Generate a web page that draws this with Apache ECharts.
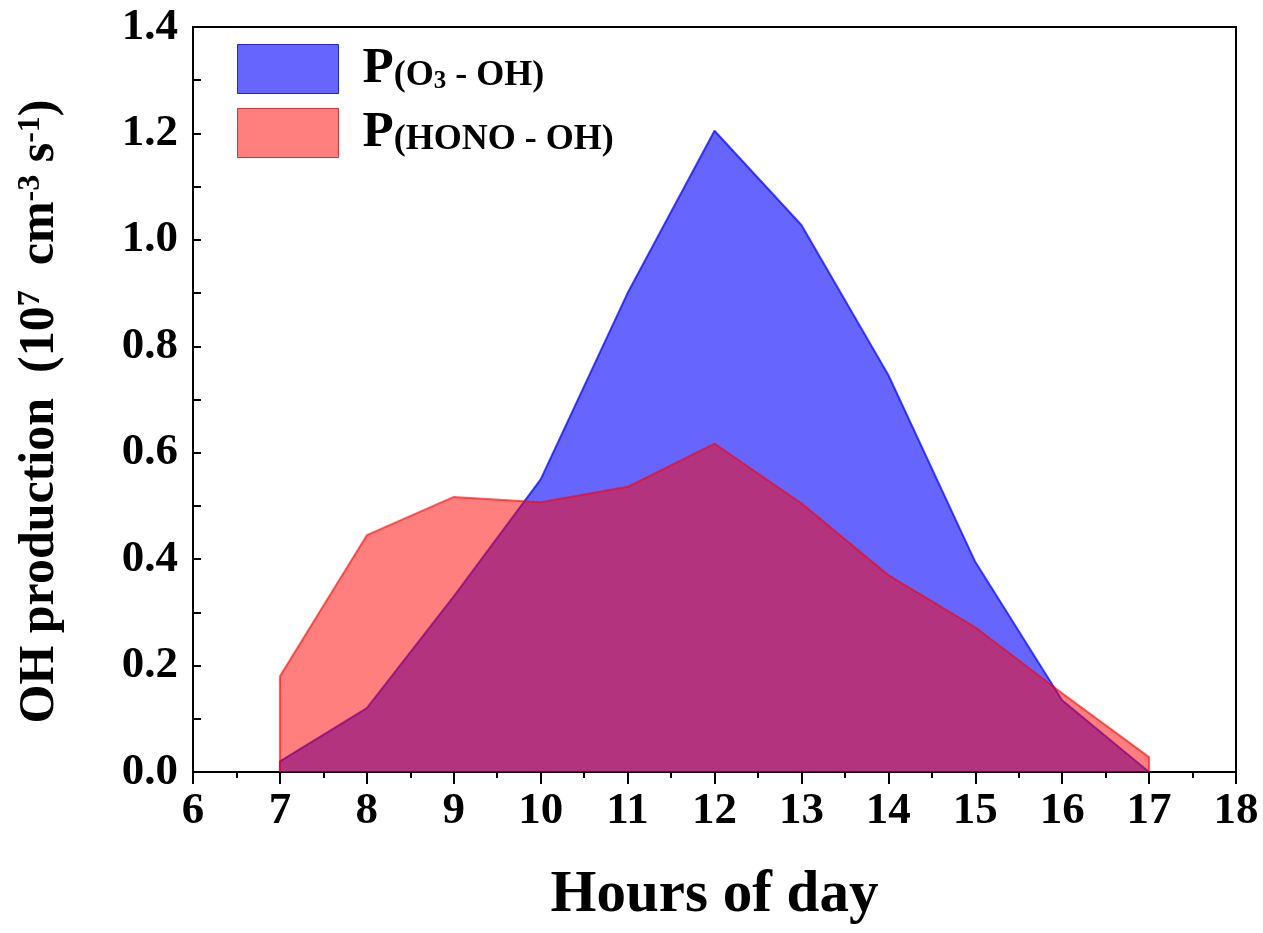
<!DOCTYPE html>
<html>
<head>
<meta charset="utf-8">
<title>OH production</title>
<script src="https://cdn.jsdelivr.net/npm/echarts@6/dist/echarts.min.js"></script>
<style>
  html, body { margin: 0; padding: 0; background: #fff; }
  #chart { width: 1263px; height: 933px; }
</style>
</head>
<body>
<div id="chart"></div>
<script>
// hours of the day (x) and OH production, 10^7 cm^-3 s^-1
const hours = [7, 8, 9, 10, 11, 12, 13, 14, 15, 16, 17];
const pO3 = [0.02, 0.12, 0.33, 0.55, 0.90, 1.205, 1.028, 0.746, 0.395, 0.135, 0.0];
const pHONO = [0.18, 0.445, 0.517, 0.507, 0.536, 0.617, 0.505, 0.37, 0.272, 0.148, 0.028];
const seriesNames = ['P(O3 - OH)', 'P(HONO - OH)'];

const FONT = "'Liberation Serif', 'Times New Roman', serif";

// closed outline like the original filled polygon: drop to zero at both ends
function toPolygon(values) {
    const pts = hours.map((h, i) => [h, values[i]]);
    return [[hours[0], 0], ...pts, [hours[hours.length - 1], 0]];
}

const chart = echarts.init(document.getElementById('chart'), null, { renderer: 'canvas' });

chart.setOption({
    backgroundColor: '#fff',
    animation: false,
    grid: {
        left: 193, right: 27, top: 27, bottom: 161,
        show: true, borderColor: '#000', borderWidth: 2,
        outerBoundsMode: 'none'
    },
    legend: {
        left: 237, top: 43,
        padding: 0,
        orient: 'vertical',
        itemWidth: 101, itemHeight: 49, itemGap: 13,
        icon: 'rect',
        data: [
            { name: seriesNames[0], itemStyle: { color: 'rgba(0,0,255,0.6)', borderColor: 'rgba(0,0,180,0.8)', borderWidth: 1 } },
            { name: seriesNames[1], itemStyle: { color: 'rgba(255,0,0,0.5)', borderColor: 'rgba(180,0,0,0.7)', borderWidth: 1 } }
        ],
        formatter: name => name === seriesNames[0]
            ? '{p|P}{s|(O}{sub|3}{s| - OH)}'
            : '{p|P}{s|(HONO - OH)}',
        textStyle: {
            fontFamily: FONT, fontWeight: 'bold', color: '#000',
            rich: {
                p: { fontFamily: FONT, fontWeight: 'bold', fontSize: 51, lineHeight: 50, padding: [0, 0, 0, 19], verticalAlign: 'bottom' },
                s: { fontFamily: FONT, fontWeight: 'bold', fontSize: 36, lineHeight: 36, verticalAlign: 'bottom' },
                sub: { fontFamily: FONT, fontWeight: 'bold', fontSize: 25, lineHeight: 20, verticalAlign: 'bottom' }
            }
        }
    },
    xAxis: {
        type: 'value',
        min: 6, max: 18, interval: 1,
        name: 'Hours of day',
        nameLocation: 'middle',
        nameGap: 94,
        nameTextStyle: { fontFamily: FONT, fontWeight: 'bold', fontSize: 59, color: '#000' },
        axisLine: { show: true, onZero: false, lineStyle: { color: '#000', width: 2 } },
        axisTick: { show: true, inside: false, length: 12, lineStyle: { color: '#000', width: 2 } },
        minorTick: { show: true, splitNumber: 2, length: 6, lineStyle: { color: '#000', width: 2 } },
        axisLabel: { fontFamily: FONT, fontWeight: 'bold', fontSize: 45, color: '#000', margin: 17 },
        splitLine: { show: false }
    },
    yAxis: {
        type: 'value',
        min: 0, max: 1.4, interval: 0.2,
        name: '{t|OH production  (10}{sup|7}{t|  cm}{sup|-3}{t| s}{sup|-1}{t|)}',
        nameLocation: 'middle',
        nameRotate: 90,
        nameGap: 128,
        nameTextStyle: {
            fontFamily: FONT, fontWeight: 'bold', color: '#000',
            padding: [0, 24, 0, 0],
            rich: {
                t: { fontFamily: FONT, fontWeight: 'bold', fontSize: 50, lineHeight: 50 },
                sup: { fontFamily: FONT, fontWeight: 'bold', fontSize: 32, lineHeight: 32, verticalAlign: 'top' }
            }
        },
        axisLine: { show: true, lineStyle: { color: '#000', width: 2 } },
        axisTick: { show: true, inside: true, length: 8, lineStyle: { color: '#000', width: 2 } },
        minorTick: { show: true, splitNumber: 2, length: 8, lineStyle: { color: '#000', width: 2 } },
        axisLabel: {
            fontFamily: FONT, fontWeight: 'bold', fontSize: 45, color: '#000', margin: 15,
            formatter: v => v.toFixed(1)
        },
        splitLine: { show: false }
    },
    series: [
        {
            name: seriesNames[0],
            type: 'line',
            data: toPolygon(pO3),
            symbol: 'none',
            lineStyle: { color: 'rgba(0,0,255,0.7)', width: 2 },
            itemStyle: { color: 'rgba(0,0,255,0.6)' },
            areaStyle: { color: 'rgba(0,0,255,0.6)', opacity: 1 },
            z: 2
        },
        {
            name: seriesNames[1],
            type: 'line',
            data: toPolygon(pHONO),
            symbol: 'none',
            lineStyle: { color: 'rgba(255,0,0,0.6)', width: 2 },
            itemStyle: { color: 'rgba(255,0,0,0.5)' },
            areaStyle: { color: 'rgba(255,0,0,0.5)', opacity: 1 },
            z: 3
        }
    ]
});

window.addEventListener('resize', () => chart.resize());
</script>
</body>
</html>
